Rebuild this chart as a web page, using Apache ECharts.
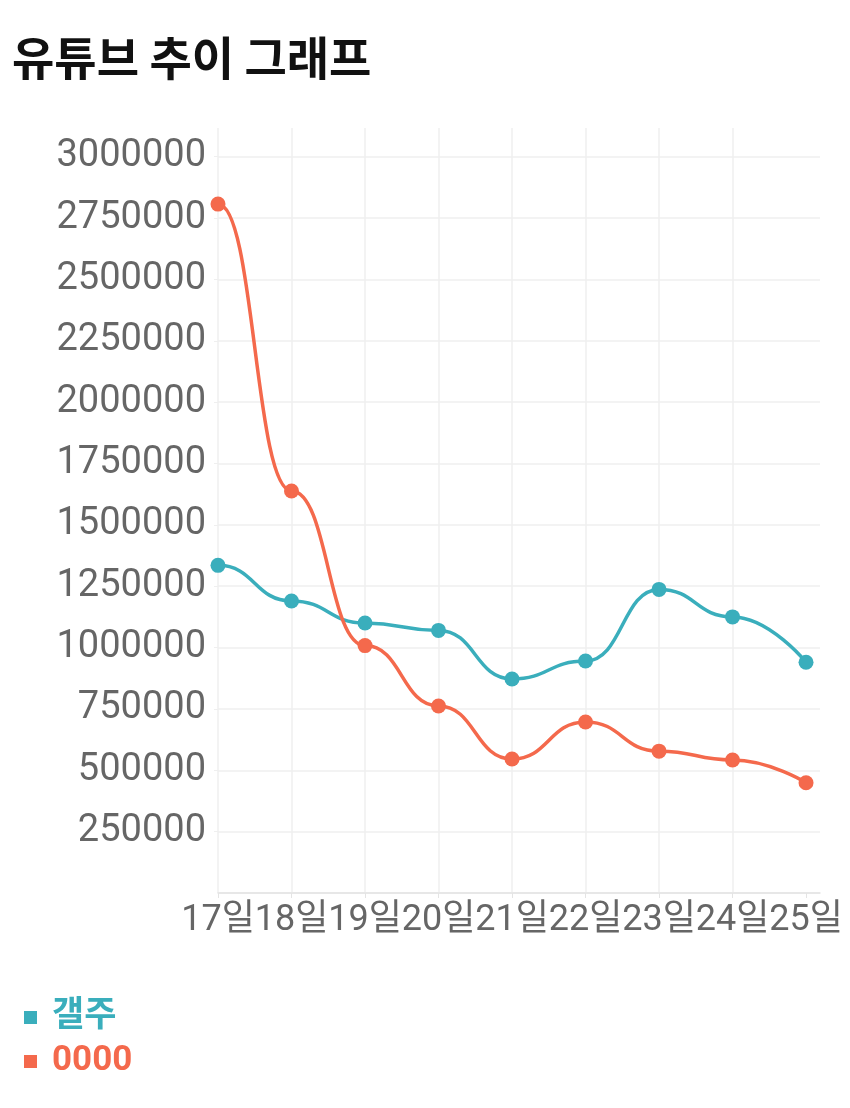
<!DOCTYPE html>
<html>
<head>
<meta charset="utf-8">
<script src="https://cdn.jsdelivr.net/npm/echarts@6/dist/echarts.min.js"></script>
<style>
  html, body { margin: 0; padding: 0; background: #fff; }
  #chart { width: 850px; height: 1108px; }
</style>
</head>
<body>
<div id="chart"></div>
<script>
// 날짜
const days = ['17일', '18일', '19일', '20일', '21일', '22일', '23일', '24일', '25일']
// 갤주
const galju = [1335000, 1190000, 1100000, 1070000, 872000, 945000, 1237000, 1125000, 940000]
// 0000
const other = [2807000, 1638000, 1008000, 762000, 546000, 697000, 578000, 542000, 449000]

const teal = '#3aaebc'
const orange = '#f4694c'
const font = 'Roboto, "Noto Sans CJK KR", sans-serif'
const dayIdx = days.map((d, i) => i)

// 첫 구간도 수평 접선이 되도록 그리드 왼쪽 밖(잘림)에 첫 값을 한 번 더 붙임
function toPoints(vals) {
  const pts = vals.map((v, i) => [i, v])
  return [[-1, vals[0]], ...pts]
}

const chart = echarts.init(document.getElementById('chart'))
chart.setOption({
  animation: false,
  title: {
    text: '유튜브 추이 그래프',
    left: 7,
    top: 30,
    textStyle: { fontFamily: '"Noto Sans CJK KR", sans-serif', fontSize: 46, fontWeight: 'bold', color: '#111' }
  },
  legend: {
    orient: 'vertical',
    left: 19,
    top: 995,
    itemWidth: 13,
    itemHeight: 13,
    itemGap: 9,
    icon: 'rect',
    textStyle: {
      fontFamily: font, fontSize: 35, lineHeight: 35, fontWeight: 'bold', color: 'inherit',
      padding: [0, 0, 0, 10]
    }
  },
  grid: { left: 218, right: 30, top: 128, bottom: 215 },
  xAxis: {
    type: 'value',
    min: 0,
    max: 8.19,
    interval: 1,
    axisLine: { show: true, lineStyle: { color: '#e4e4e4', width: 1.5 } },
    axisTick: { show: true, length: 5, customValues: dayIdx, lineStyle: { color: '#e4e4e4' } },
    axisLabel: {
      customValues: dayIdx,
      showMinLabel: true,
      showMaxLabel: true,
      hideOverlap: false,
      formatter: v => days[v],
      fontFamily: font, fontSize: 36, color: '#666', margin: 10
    },
    splitLine: { show: true, showMaxLine: false, lineStyle: { color: '#efefef', width: 1.5 } }
  },
  yAxis: {
    type: 'value',
    min: 0,
    max: 3117000,
    interval: 250000,
    axisLine: { show: false },
    axisTick: { show: true, length: 4, lineStyle: { color: '#efefef' } },
    axisLabel: {
      showMinLabel: false,
      showMaxLabel: false,
      formatter: v => String(v),
      fontFamily: font, fontSize: 38, color: '#666', margin: 12
    },
    splitLine: { show: true, showMaxLine: false, lineStyle: { color: '#efefef', width: 1.5 } }
  },
  series: [
    {
      name: '갤주',
      type: 'line',
      smooth: 0.5,
      smoothMonotone: 'x',
      clip: true,
      data: toPoints(galju),
      symbol: 'circle',
      symbolSize: 15,
      itemStyle: { color: teal },
      lineStyle: { color: teal, width: 3.5 }
    },
    {
      name: '0000',
      type: 'line',
      smooth: 0.5,
      smoothMonotone: 'x',
      clip: true,
      data: toPoints(other),
      symbol: 'circle',
      symbolSize: 15,
      itemStyle: { color: orange },
      lineStyle: { color: orange, width: 3.5 }
    }
  ]
})
</script>
</body>
</html>
